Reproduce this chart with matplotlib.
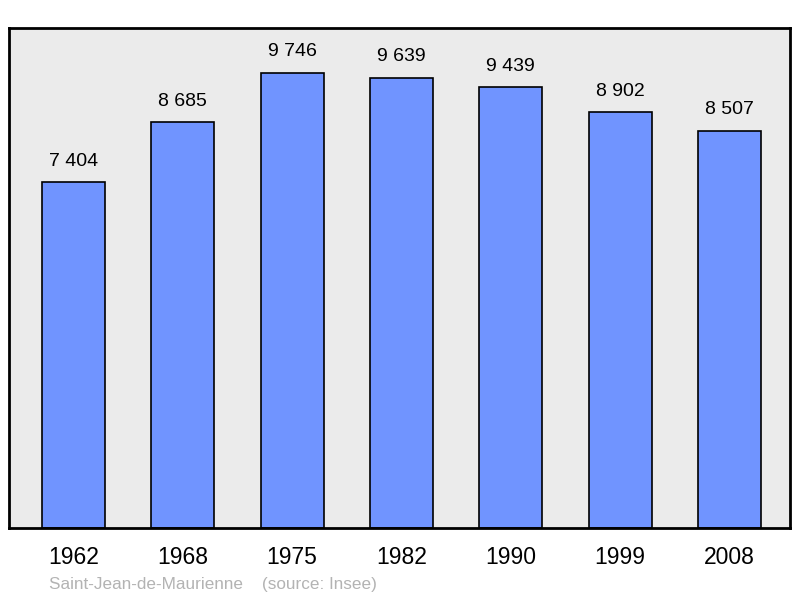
import matplotlib.pyplot as plt
import numpy as np

plt.rcParams['font.family'] = ['Liberation Sans', 'DejaVu Sans']

years = ['1962', '1968', '1975', '1982', '1990', '1999', '2008']
population = [7404, 8685, 9746, 9639, 9439, 8902, 8507]
value_labels = ['7 404', '8 685', '9 746', '9 639', '9 439', '8 902', '8 507']

fig = plt.figure(figsize=(8, 5.98), dpi=100)
ax = fig.add_axes([9/800, 70/598, 781/800, 500/598])
ax.set_facecolor('#ebebeb')

x = np.arange(len(years))
ax.bar(x, population, width=0.576, color='#7094ff', edgecolor='black', linewidth=1.2)

for xi, v, lab in zip(x, population, value_labels):
    ax.annotate(lab, (xi, v), xytext=(0, 9), textcoords='offset points',
                ha='center', va='bottom', fontsize=14)

ax.set_xlim(-0.59, 6.553)
ax.set_ylim(0, 10709)
ax.set_xticks(x)
ax.set_xticklabels(years, fontsize=16.5)
ax.set_yticks([])
ax.tick_params(axis='x', length=0, pad=13)
for s in ax.spines.values():
    s.set_linewidth(2)

fig.text(49/800, 1 - 584/598, 'Saint-Jean-de-Maurienne    (source: Insee)',
         color='#b3b3b3', fontsize=12.3, va='center', ha='left')

fig.savefig('out.png', dpi=100)
